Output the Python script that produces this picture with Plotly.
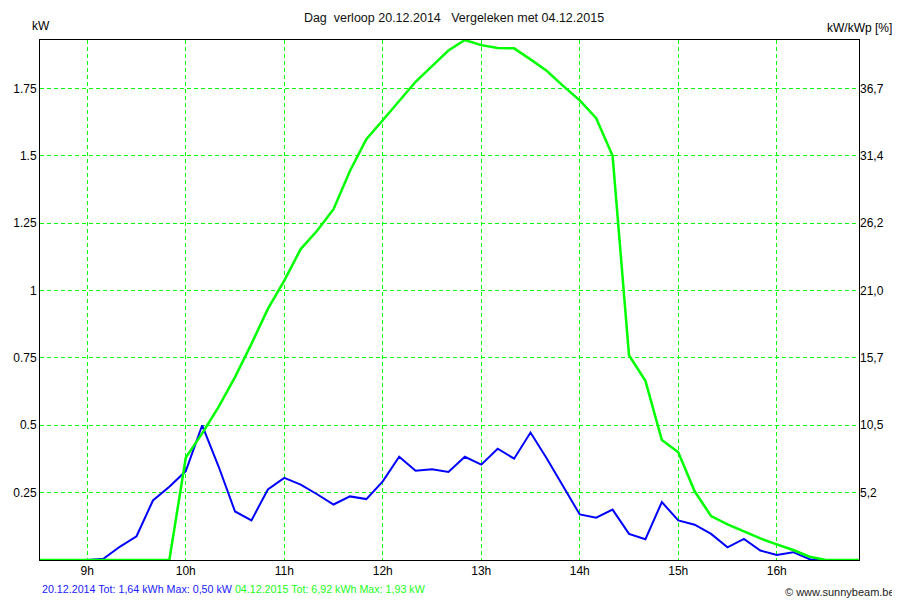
import plotly.graph_objects as go

# tijd (hh:mm) en vermogen (kW)
tijd_2014 = ["09:00", "09:10", "09:20", "09:30", "09:40", "09:50", "10:00", "10:10", "10:20", "10:30",
             "10:40", "10:50", "11:00", "11:10", "11:20", "11:30", "11:40", "11:50", "12:00", "12:10",
             "12:20", "12:30", "12:40", "12:50", "13:00", "13:10", "13:20", "13:30", "13:40", "13:50",
             "14:00", "14:10", "14:20", "14:30", "14:40", "14:50", "15:00", "15:10", "15:20", "15:30",
             "15:40", "15:50", "16:00", "16:10", "16:20", "16:30"]
kw_2014 = [0.0, 0.005, 0.05, 0.088, 0.221, 0.272, 0.330, 0.50, 0.347, 0.180,
           0.147, 0.262, 0.305, 0.280, 0.244, 0.206, 0.236, 0.226, 0.292, 0.383,
           0.331, 0.337, 0.327, 0.383, 0.354, 0.413, 0.376, 0.473, 0.376, 0.272,
           0.169, 0.157, 0.187, 0.097, 0.077, 0.215, 0.147, 0.131, 0.097, 0.047,
           0.078, 0.035, 0.019, 0.029, 0.003, 0.0]

tijd_2015 = ["08:30", "09:50", "10:00", "10:10", "10:20", "10:30", "10:40", "10:50", "11:00", "11:10",
             "11:20", "11:30", "11:40", "11:50", "12:00", "12:10", "12:20", "12:30", "12:40", "12:50",
             "13:00", "13:10", "13:20", "13:30", "13:40", "13:50", "14:00", "14:10", "14:20", "14:30",
             "14:40", "14:50", "15:00", "15:10", "15:20", "15:30", "15:40", "15:50", "16:00", "16:10",
             "16:20", "16:30", "16:50"]
kw_2015 = [0.0, 0.0, 0.38, 0.47, 0.568, 0.679, 0.802, 0.932, 1.037, 1.154,
           1.222, 1.302, 1.444, 1.562, 1.632, 1.704, 1.775, 1.833, 1.891, 1.93,
           1.911, 1.90, 1.899, 1.858, 1.815, 1.759, 1.706, 1.64, 1.50, 0.76,
           0.665, 0.445, 0.40, 0.255, 0.163, 0.132, 0.105, 0.08, 0.058, 0.037,
           0.012, 0.0, 0.0]

uren = [9, 10, 11, 12, 13, 14, 15, 16]
uur_labels = ["9h", "10h", "11h", "12h", "13h", "14h", "15h", "16h"]
kw_ticks = [0.25, 0.5, 0.75, 1, 1.25, 1.5, 1.75]
kw_labels = ["0.25", "0.5", "0.75", "1", "1.25", "1.5", "1.75"]
pct_labels = ["5,2", "10,5", "15,7", "21,0", "26,2", "31,4", "36,7"]


def naar_uur(t):
    h, m = t.split(":")
    return int(h) + int(m) / 60


x_2014 = [naar_uur(t) for t in tijd_2014]
x_2015 = [naar_uur(t) for t in tijd_2015]

GROEN = "#00ff00"
BLAUW = "#0000ff"
NBSP = "\u00a0"

fig = go.Figure()
fig.add_trace(go.Scatter(x=x_2014, y=kw_2014, mode="lines", line=dict(color=BLAUW, width=2)))
fig.add_trace(go.Scatter(x=x_2015, y=kw_2015, mode="lines", line=dict(color=GROEN, width=2.5)))
# lege trace zodat de rechter as getekend wordt
fig.add_trace(go.Scatter(x=[9], y=[0], yaxis="y2", mode="lines", line=dict(width=0), hoverinfo="skip"))

titel = "Dag" + NBSP * 2 + "verloop 20.12.2014" + NBSP * 3 + "Vergeleken met 04.12.2015"

# de pagina heeft 8px body-marge, daarom 892x592
fig.update_layout(
    width=892, height=592,
    margin=dict(l=32, r=41, t=32, b=40),
    paper_bgcolor="white", plot_bgcolor="white",
    showlegend=False,
    font=dict(family="Liberation Sans, Arial", size=12, color="black"),
    title=dict(text=titel, x=0.5, xanchor="center",
               y=0.983, yanchor="middle", font=dict(size=12.5, color="#111111"), automargin=False),
    xaxis=dict(range=[8.52, 16.835], tickvals=uren, ticktext=uur_labels, ticks="", automargin=False,
               showgrid=True, gridcolor=GROEN, gridwidth=1, griddash="4px,3px",
               showline=True, linecolor="black", linewidth=1, mirror=True, zeroline=False),
    yaxis=dict(range=[0, 1.93], tickvals=kw_ticks, ticktext=kw_labels, ticks="", automargin=False,
               showgrid=True, gridcolor=GROEN, gridwidth=1, griddash="4px,3px",
               showline=True, linecolor="black", linewidth=1, mirror=True, zeroline=False),
    yaxis2=dict(range=[0, 1.93], overlaying="y", side="right", tickvals=kw_ticks, ticktext=pct_labels,
                ticks="", automargin=False, showgrid=False, showline=False, zeroline=False),
)

fig.add_annotation(text="kW", xref="paper", yref="paper", x=0.001, y=1.026,
                   xanchor="center", yanchor="middle", showarrow=False)
fig.add_annotation(text="kW/kWp [%]", xref="paper", yref="paper", x=1.001, y=1.024,
                   xanchor="center", yanchor="middle", showarrow=False)
fig.add_annotation(
    text="<span style='color:#2020ff'>20.12.2014 Tot: 1,64 kWh Max: 0,50 kW</span> "
         "<span style='color:#20ff20'>04.12.2015 Tot: 6,92 kWh Max: 1,93 kW</span>",
    xref="paper", yref="paper", x=0, y=-0.056, xanchor="left", yanchor="middle",
    showarrow=False, font=dict(size=10.7))
fig.add_annotation(text="© www.sunnybeam.be", xref="paper", yref="paper", x=1.0464, y=-0.061,
                   xanchor="right", yanchor="middle", showarrow=False, font=dict(size=11, color="#222222"))

fig.write_html("out.html")
